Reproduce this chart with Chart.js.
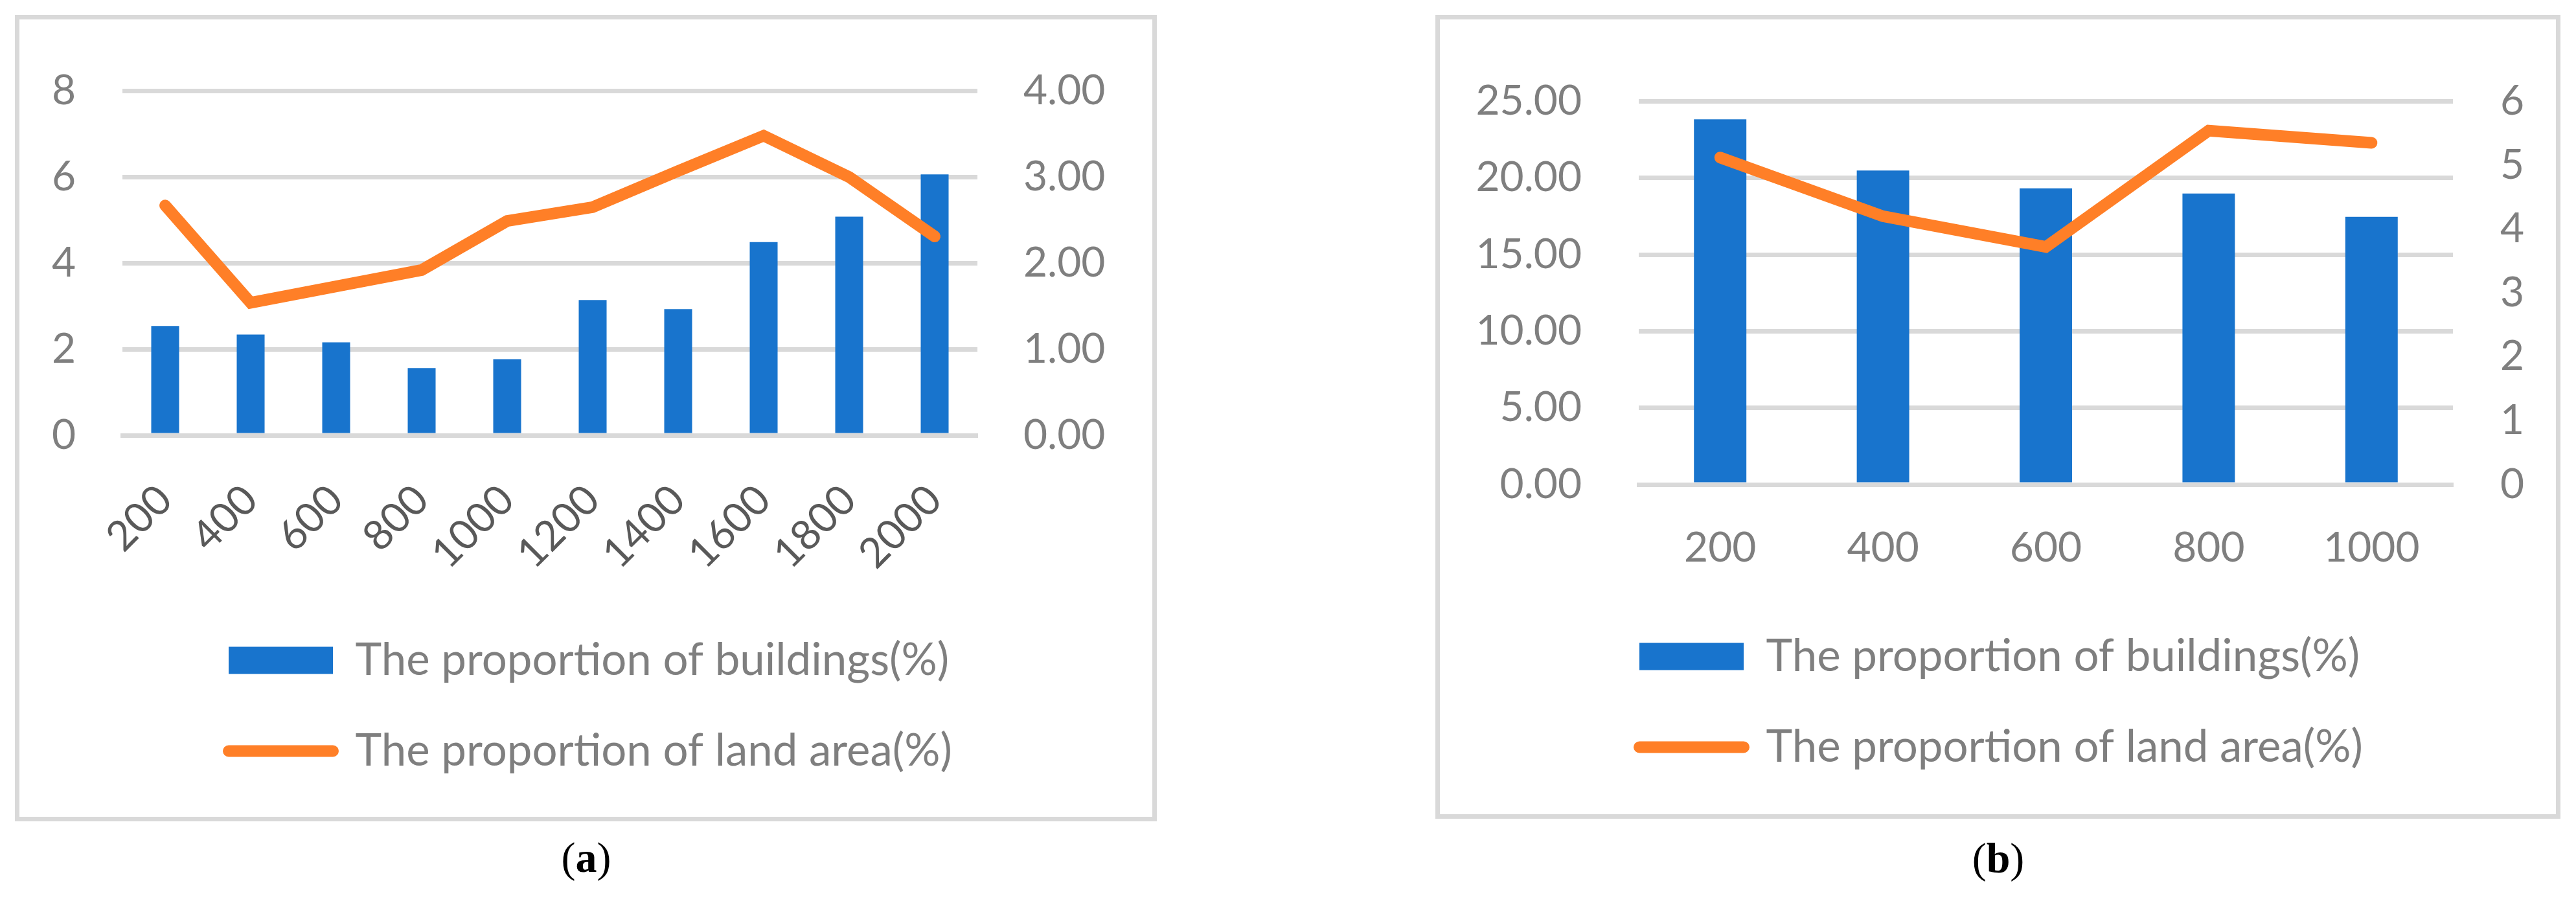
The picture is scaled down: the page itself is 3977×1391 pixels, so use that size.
<!DOCTYPE html>
<html><head><meta charset="utf-8">
<script src="https://cdn.jsdelivr.net/npm/chart.js@4.4.1/dist/chart.umd.min.js"></script>
<style>
html,body{margin:0;padding:0;background:#fff;}
body{width:3977px;height:1391px;position:relative;overflow:hidden;}
.frame{position:absolute;border:7px solid #d9d9d9;box-sizing:border-box;background:#fff;}
.frame canvas{position:absolute;left:0;top:0;}
.cap{position:absolute;width:300px;text-align:center;font-family:'Liberation Serif','Times New Roman',serif;font-size:66px;line-height:66px;color:#000;}
</style></head><body>
<div class="frame" style="left:23px;top:23px;width:1763px;height:1245px;"><canvas id="ca" width="1749" height="1231" style="width:1749px;height:1231px"></canvas></div>
<div class="frame" style="left:2216px;top:23px;width:1737px;height:1241px;"><canvas id="cb" width="1723" height="1227" style="width:1723px;height:1227px"></canvas></div>
<div class="cap" style="left:755px;top:1291px;">(<b>a</b>)</div>
<div class="cap" style="left:2935px;top:1292px;">(<b>b</b>)</div>
<script>
// ---- data ----
const seriesNames = ['The proportion of buildings(%)', 'The proportion of land area(%)'];

const categoriesA = ['200','400','600','800','1000','1200','1400','1600','1800','2000'];
const buildingsA  = [2.54, 2.34, 2.16, 1.56, 1.77, 3.14, 2.93, 4.49, 5.08, 6.06];
const landAreaA   = [2.67, 1.54, 1.73, 1.92, 2.49, 2.65, 3.07, 3.48, 3.00, 2.31];
const leftTicksA  = ['0','2','4','6','8'];
const rightTicksA = ['0.00','1.00','2.00','3.00','4.00'];

const categoriesB = ['200','400','600','800','1000'];
const buildingsB  = [23.82, 20.48, 19.32, 18.98, 17.46];
const landAreaB   = [5.12, 4.20, 3.72, 5.54, 5.35];
const leftTicksB  = ['0.00','5.00','10.00','15.00','20.00','25.00'];
const rightTicksB = ['0','1','2','3','4','5','6'];

// ---- style ----
const BLUE = '#1874CD', ORANGE = '#FF7F27', GRID = '#d9d9d9', TXT = '#7f7f7f';
const FONT = "Lato, 'Open Sans', sans-serif";
const FS = 64;      // tick font
const LFS = 69;     // legend font

const legendShift = {
  id: 'legendShift',
  afterLayout(chart, args, opts) {
    const lg = chart.legend;
    if (lg && opts && opts.dx) { lg.left += opts.dx; lg.right += opts.dx; }
  }
};

function axisFromLabels(arr) {
  const vals = arr.map(Number);
  return { min: vals[0], max: vals[vals.length - 1], step: vals[1] - vals[0] };
}

function build(canvas, g, labels, bars, line, leftTicks, rightTicks) {
  const L = axisFromLabels(leftTicks), R = axisFromLabels(rightTicks);
  return new Chart(canvas, {
    type: 'bar',
    data: {
      labels: labels,
      datasets: [
        { type: 'bar', label: seriesNames[0], data: bars, backgroundColor: BLUE, borderWidth: 0,
          yAxisID: 'y', order: 1, barPercentage: g.barPct, categoryPercentage: 1 },
        { type: 'line', label: seriesNames[1], data: line, borderColor: ORANGE, backgroundColor: ORANGE,
          borderWidth: 18, borderCapStyle: 'round', borderJoinStyle: 'miter', pointRadius: 0,
          tension: 0, yAxisID: 'y1', order: 0, fill: false }
      ]
    },
    options: {
      responsive: false, animation: false, devicePixelRatio: 1,
      layout: { padding: { top: g.padTop, bottom: g.padBottom, left: 0, right: 0 } },
      plugins: {
        tooltip: { enabled: false },
        legendShift: { dx: g.legendDx },
        legend: {
          position: 'bottom', align: 'start',
          labels: {
            usePointStyle: true, pointStyleWidth: 161, boxHeight: 42, padding: 71,
            color: TXT, font: { family: FONT, size: LFS },
            sort: (a, b) => a.datasetIndex - b.datasetIndex,
            generateLabels(chart) {
              const items = Chart.defaults.plugins.legend.labels.generateLabels(chart);
              items.forEach(it => {
                it.fontColor = TXT;
                if (it.datasetIndex === 0) {
                  it.pointStyle = 'rect'; it.lineWidth = 0; it.fillStyle = BLUE;
                } else {
                  it.pointStyle = 'line'; it.lineWidth = 18; it.strokeStyle = ORANGE;
                  it.lineCap = 'round'; it.fillStyle = ORANGE;
                }
              });
              return items;
            }
          }
        }
      },
      scales: {
        x: {
          z: 1,
          grid: { display: false, drawTicks: false },
          border: { display: true, color: GRID, width: 7 },
          ticks: { color: g.xColor, font: { family: FONT, size: FS }, padding: g.xPad,
                   minRotation: g.rot, maxRotation: g.rot, autoSkip: false },
          afterFit(s) { s.height = g.xH; }
        },
        y: {
          position: 'left', min: L.min, max: L.max,
          ticks: { stepSize: L.step, color: TXT, font: { family: FONT, size: FS }, padding: g.lPad,
                   callback: (v, i) => leftTicks[i] },
          grid: { color: GRID, lineWidth: 7, drawTicks: false },
          border: { display: false },
          afterFit(s) { s.width = g.leftW; }
        },
        y1: {
          position: 'right', min: R.min, max: R.max,
          ticks: { stepSize: R.step, color: TXT, font: { family: FONT, size: FS }, padding: g.rPad,
                   callback: (v, i) => rightTicks[i] },
          grid: { display: false, drawTicks: false },
          border: { display: false },
          afterFit(s) { s.width = g.rightW; }
        }
      }
    },
    plugins: [legendShift]
  });
}

let done = false;
function draw() {
  if (done) return; done = true;
  build(document.getElementById('ca'),
    { padTop: 88, padBottom: 57, xH: 242, leftW: 159, rightW: 270, lPad: 72, rPad: 71,
      xPad: 62, rot: 45, xColor: '#595959', barPct: 0.326, legendDx: 252 },
    categoriesA, buildingsA, landAreaA, leftTicksA, rightTicksA);
  build(document.getElementById('cb'),
    { padTop: 88, padBottom: 59, xH: 160, leftW: 307, rightW: 159, lPad: 88, rPad: 73,
      xPad: 60, rot: 0, xColor: TXT, barPct: 0.322, legendDx: 237 },
    categoriesB, buildingsB, landAreaB, leftTicksB, rightTicksB);
}
if (document.fonts && document.fonts.load) {
  Promise.all([document.fonts.load('64px Lato'), document.fonts.load('69px Lato')]).then(draw, draw);
  setTimeout(draw, 1500);
} else { draw(); }
</script>
</body></html>
